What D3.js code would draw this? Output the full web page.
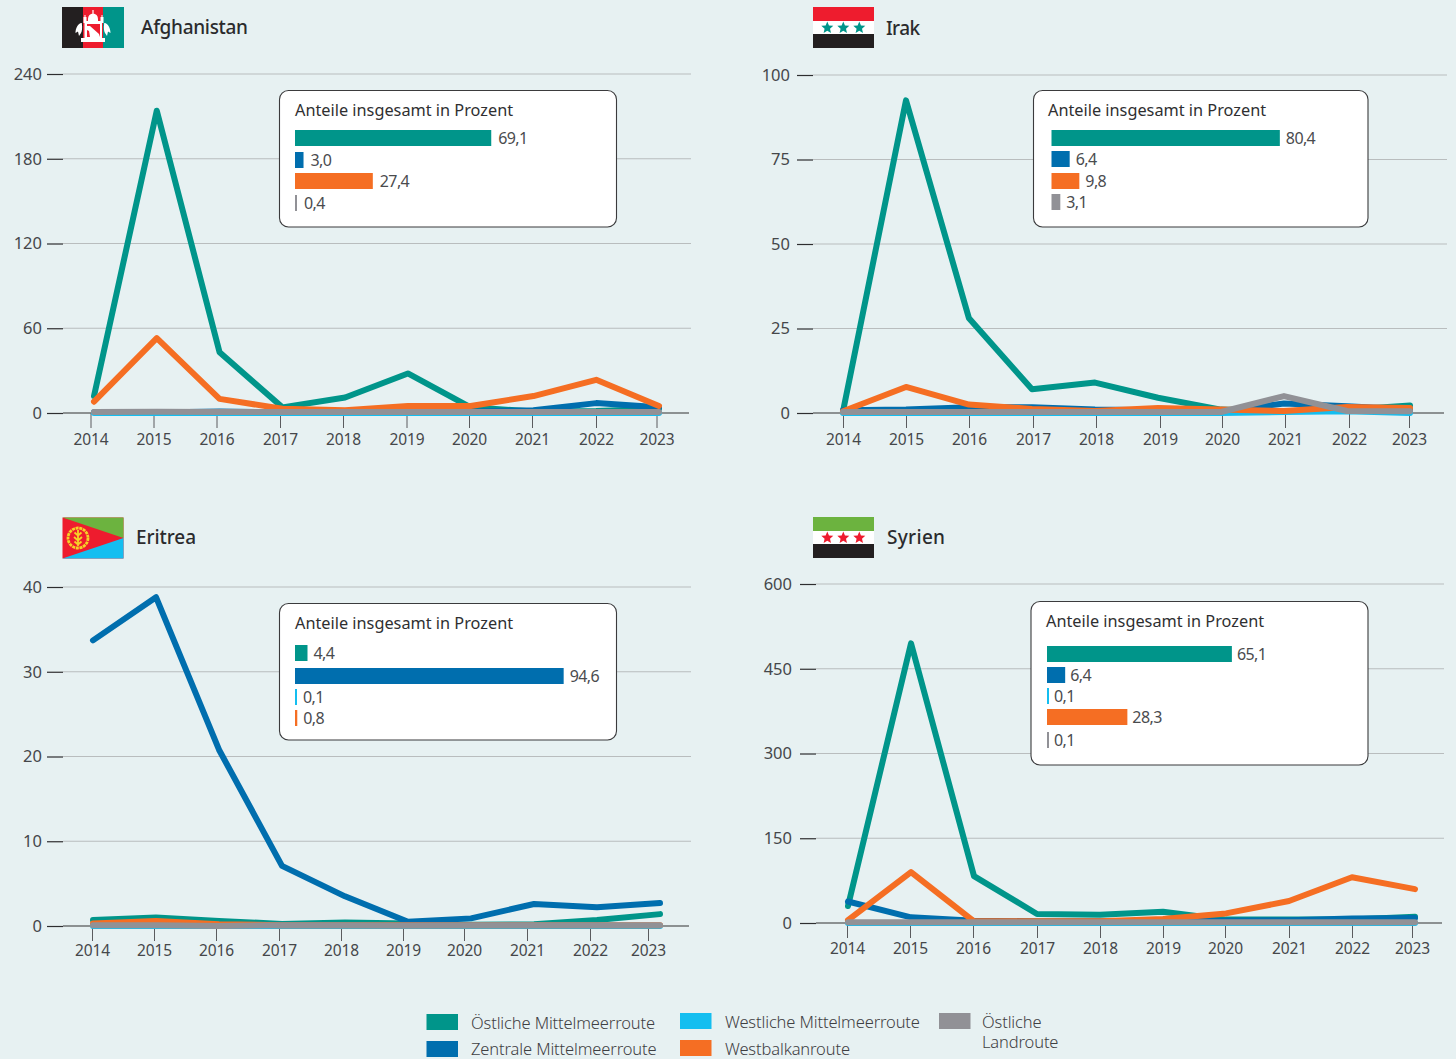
<!DOCTYPE html>
<html lang="de">
<head>
<meta charset="utf-8">
<title>Asylanträge nach Herkunftsland und Fluchtroute</title>
<script src="https://cdn.jsdelivr.net/npm/d3@7/dist/d3.min.js"></script>
<style>
  html, body { margin: 0; padding: 0; background: #e7f1f2; }
  svg { display: block; font-family: "Noto Sans", sans-serif; }
  .axis { font-family: "Noto Sans", sans-serif; }
  .axis text { font-size: 15.5px; fill: #45474a; letter-spacing: -0.15px; }
  .axis.y-axis text { font-size: 16.5px; letter-spacing: 0; }
  .axis .domain { display: none; }
  .title { font-size: 19px; fill: #2b2b2d; font-weight: 500; }
  .box-title { font-size: 16.3px; fill: #2f2f31; }
  .bar-label { font-size: 16px; fill: #4a4b4e; letter-spacing: -0.6px; }
  .legend text { font-size: 16.5px; font-weight: 300; fill: #3f4043; letter-spacing: -0.13px; }
</style>
</head>
<body>
<svg id="chart" width="1456" height="1059"></svg>
<script>
const years = [2014, 2015, 2016, 2017, 2018, 2019, 2020, 2021, 2022, 2023];
const routes = ["Östliche Mittelmeerroute", "Zentrale Mittelmeerroute", "Westliche Mittelmeerroute", "Westbalkanroute", "Östliche Landroute"];
const routeColors = ["#00958a", "#006eae", "#14bef0", "#f56e23", "#919196"];

// Counts per year and route (teal, blue, cyan, orange, grey)
const afghanistanEast = [12, 214, 43, 4, 11, 28, 4, 1, 1.5, 3];
const afghanistanCentral = [0.5, 0.3, 1, 0.5, 0.5, 1, 1, 2, 7, 4];
const afghanistanWest = [0, 0, 0, 0, 0, 0, 0, 0, 0, 0];
const afghanistanBalkan = [8, 53, 10, 3, 2, 5, 5, 12, 23.5, 5];
const afghanistanLand = [0.7, 0.9, 0.7, 0.7, 0.7, 0.7, 0.7, 0.7, 0.7, 0.7];

const iraqEast = [0.5, 92.5, 28, 7, 9, 4.5, 1, 0.5, 1, 2.2];
const iraqCentral = [0.8, 1, 1.7, 1.7, 1, 0.8, 0.5, 2.8, 2, 1];
const iraqWest = [0, 0, 0, 0, 0, 0, 0, 0.3, 0.5, 0];
const iraqBalkan = [0.5, 7.7, 2.5, 1.2, 0.6, 1.5, 1, 0.6, 1.8, 1.5];
const iraqLand = [0.3, 0.3, 0.3, 0.3, 0.3, 0.3, 0.3, 5, 0.6, 0.5];

const eritreaEast = [0.7, 1, 0.6, 0.25, 0.4, 0.3, 0.15, 0.2, 0.7, 1.4];
const eritreaCentral = [33.7, 38.8, 20.8, 7.1, 3.5, 0.5, 0.9, 2.6, 2.2, 2.7];
const eritreaWest = [0, 0, 0, 0, 0, 0, 0, 0, 0, 0];
const eritreaBalkan = [0.3, 0.6, 0.2, 0.1, 0.1, 0.1, 0.1, 0.1, 0.1, 0.1];
const eritreaLand = [0.1, 0.1, 0, 0.1, 0.1, 0.05, 0.1, 0.1, 0.1, 0.1];

const syriaEast = [30, 495, 83, 16, 14.7, 20, 6, 6, 6, 11];
const syriaCentral = [38, 10, 4, 3, 3, 3, 4, 5, 8, 9];
const syriaWest = [0, 0, 0, 0, 0, 0, 0, 0, 0, 0];
const syriaBalkan = [5, 90, 3, 3, 3, 7, 17, 39, 81, 60];
const syriaLand = [1.5, 1.5, 1.5, 1.5, 1.5, 1.5, 1.5, 1.5, 1.5, 1.5];

// Overall shares in percent; null means the route has no row in the box
const afghanistanShares = [69.1, 3.0, null, 27.4, 0.4];
const iraqShares = [80.4, 6.4, null, 9.8, 3.1];
const eritreaShares = [4.4, 94.6, 0.1, 0.8, null];
const syriaShares = [65.1, 6.4, 0.1, 28.3, 0.1];

const afghanistanTicks = [0, 60, 120, 180, 240];
const iraqTicks = [0, 25, 50, 75, 100];
const eritreaTicks = [0, 10, 20, 30, 40];
const syriaTicks = [0, 150, 300, 450, 600];

function star(sel, cx, cy, r, color) {
  const pts = d3.range(10).map(i => {
    const a = -Math.PI / 2 + i * Math.PI / 5, R = i % 2 ? r * 0.45 : r;
    return [cx + R * Math.cos(a), cy + R * Math.sin(a)];
  });
  sel.append("polygon").attr("points", pts.join(" ")).attr("fill", color);
}

// Three horizontal bands, with three stars on the middle one
function tricolor(sel, colors, starColor) {
  [[0, 14], [14, 13], [27, 14]].forEach(([y, h], i) =>
    sel.append("rect").attr("y", y).attr("width", 61).attr("height", h).attr("fill", colors[i]));
  [14.3, 30.3, 46.3].forEach(cx => star(sel, cx, 20.8, 6.3, starColor));
}

const flagPainters = {
  afghanistan(sel) {
    [["#231f20", 0, 21], ["#ee1c2e", 21, 20], ["#00958a", 41, 21]].forEach(([c, x, w]) =>
      sel.append("rect").attr("x", x).attr("width", w).attr("height", 41).attr("fill", c));
    // Simplified white mosque emblem with its two wheat wings
    sel.append("path").attr("fill", "#fff").attr("d",
      "M26 12a5 5.5 0 0 1 10 0v2h-10z M30.4 3h1.2v4h-1.2z M21.5 16v-6h1v-2h1v2h1v4h14v-4h1v-2h1v2h1v6h-1.5v15H43v4H19v-4h3.5V16z");
    sel.append("path").attr("fill", "#ee1c2e").attr("d", "M25 17h13v13H25z");
    sel.append("path").attr("fill", "#fff").attr("d", "M25 19h3l9 8 1 3H28l-1-6-2-1z");
    sel.append("path").attr("fill", "#fff").attr("d",
      "M19 16c-3 1-5.5 5-5.5 10l2.5-1.5 1 4.5 2-3c1-1.5 1.5-5 .8-10z M43 16c3 1 5.5 5 5.5 10l-2.5-1.5-1 4.5-2-3c-1-1.5-1.5-5-.8-10z");
  },
  iraq(sel) { tricolor(sel, ["#ee1c2e", "#fff", "#231f20"], "#00958a"); },
  syria(sel) { tricolor(sel, ["#6cb33f", "#fff", "#231f20"], "#ee1c2e"); },
  eritrea(sel) {
    sel.append("rect").attr("width", 61).attr("height", 41).attr("fill", "#ee1c2e");
    sel.append("path").attr("d", "M0 0H61V20.5z").attr("fill", "#6cb33f");
    sel.append("path").attr("d", "M0 41H61V20.5z").attr("fill", "#14bef0");
    // Olive wreath around a central branch
    sel.append("circle").attr("cx", 15.5).attr("cy", 20.5).attr("r", 10).attr("fill", "none")
      .attr("stroke", "#f5d327").attr("stroke-width", 2.8).attr("stroke-dasharray", "3 0.7");
    sel.append("path").attr("d", "M15.5 12.5V28.5M12 15l3.5 3 3.5-3M11.5 19.5l4 3.5 4-3.5M12 24l3.5 3 3.5-3")
      .attr("fill", "none").attr("stroke", "#f5d327").attr("stroke-width", 1.8);
  }
};

// Panel geometry
const panels = [
  { name: "Afghanistan", flag: "afghanistan", flagX: 62, flagY: 7, titleX: 141, titleY: 34, titleW: 107,
    series: [afghanistanEast, afghanistanCentral, afghanistanWest, afghanistanBalkan, afghanistanLand],
    shares: afghanistanShares, ticks: afghanistanTicks, yMax: 240, yTop: 74, yBase: 413,
    axisLeft: 63, gridRight: 691, baseRight: 689, yPad: 5, xPad: 6,
    lineRange: [94, 659],
    tickRange: [90.5, 153.5, 216.5, 280, 343, 406.5, 469, 532, 596, 656.5],
    box: { x: 279.5, y: 90.5, w: 337, h: 136.5 }, titleX2: 295, titleBase: 116, barX: 295, labelGap: 7, labelBase: 13.5,
    rows: [130, 152, 173, 195] },
  { name: "Irak", flag: "iraq", flagX: 813, flagY: 7, titleX: 886, titleY: 35, titleW: 34,
    series: [iraqEast, iraqCentral, iraqWest, iraqBalkan, iraqLand],
    shares: iraqShares, ticks: iraqTicks, yMax: 100, yTop: 75, yBase: 413,
    axisLeft: 813, gridRight: 1447, baseRight: 1444, yPad: 7, xPad: 6,
    lineRange: [843, 1410],
    tickRange: [843, 906, 969, 1033, 1096, 1160, 1222, 1285, 1349, 1409],
    box: { x: 1033.5, y: 90.5, w: 334.5, h: 136.5 }, titleX2: 1048, titleBase: 116, barX: 1051.5, labelGap: 6, labelBase: 14,
    rows: [130, 151, 173, 194] },
  { name: "Eritrea", flag: "eritrea", flagX: 62.5, flagY: 517.5, titleX: 136, titleY: 544, titleW: 60,
    series: [eritreaEast, eritreaCentral, eritreaWest, eritreaBalkan, eritreaLand],
    shares: eritreaShares, ticks: eritreaTicks, yMax: 40, yTop: 587, yBase: 926,
    axisLeft: 63, gridRight: 691, baseRight: 689, yPad: 5, xPad: 4,
    lineRange: [93, 660],
    tickRange: [92, 154, 216, 279, 341, 403, 464, 527, 590, 648],
    box: { x: 279.5, y: 603.5, w: 337, h: 136.5 }, titleX2: 295, titleBase: 629, barX: 295, labelGap: 6, labelBase: 14,
    rows: [645, 668, 689, 710] },
  { name: "Syrien", flag: "syria", flagX: 813, flagY: 517, titleX: 887, titleY: 544, titleW: 58,
    series: [syriaEast, syriaCentral, syriaWest, syriaBalkan, syriaLand],
    shares: syriaShares, ticks: syriaTicks, yMax: 600, yTop: 584, yBase: 923,
    axisLeft: 816, gridRight: 1444, baseRight: 1442, yPad: 8, xPad: 5,
    lineRange: [848, 1415],
    tickRange: [847, 910, 973, 1037, 1100, 1163, 1225, 1289, 1352, 1412],
    box: { x: 1031, y: 601.5, w: 337, h: 163.5 }, titleX2: 1046, titleBase: 627, barX: 1047, labelGap: 5, labelBase: 14,
    rows: [646, 667, 688, 709, 732] }
];

const svg = d3.select("#chart");
const deLocale = d3.formatLocale({ decimal: ",", thousands: ".", grouping: [3], currency: ["", "€"] });
const formatShare = deLocale.format(".1f");
// Same horizontal scale in every box: about 2.84 px per percentage point
const shareScale = d3.scaleLinear().domain([0, 100]).range([0, 284]);

panels.forEach(p => {
  const g = svg.append("g");
  const y = d3.scaleLinear().domain([0, p.yMax]).range([p.yBase, p.yTop]);
  const xLine = d3.scaleLinear().domain(d3.extent(years)).range(p.lineRange);
  const xTick = d3.scaleLinear().domain(years).range(p.tickRange);

  // Horizontal rules with a short dark tick at the left
  g.append("g").selectAll("line").data(p.ticks.filter(t => t !== 0)).join("line")
    .attr("x1", p.axisLeft).attr("x2", p.gridRight)
    .attr("y1", d => y(d)).attr("y2", d => y(d))
    .attr("stroke", "#b9bdbe").attr("stroke-width", 1.2);
  const yAxis = d3.axisLeft(y).tickValues(p.ticks).tickSize(16).tickPadding(p.yPad);
  const yG = g.append("g").attr("class", "axis y-axis").attr("transform", `translate(${p.axisLeft},0)`).call(yAxis);
  yG.selectAll(".tick line").attr("stroke", "#2e2e30").attr("stroke-width", 1.2);

  // Year axis
  const xAxis = d3.axisBottom(xTick).tickValues(years).tickFormat(d3.format("d")).tickSize(15).tickPadding(p.xPad);
  const xG = g.append("g").attr("class", "axis").attr("transform", `translate(0,${p.yBase})`).call(xAxis);
  xG.selectAll(".tick line").attr("stroke", "#5a5b5e").attr("stroke-width", 1);

  g.append("line").attr("x1", p.axisLeft).attr("x2", p.baseRight)
    .attr("y1", p.yBase).attr("y2", p.yBase)
    .attr("stroke", "#6e7072").attr("stroke-width", 1.4);

  // Route lines, grey on top
  const line = d3.line().x((d, i) => xLine(years[i])).y(d => y(d));
  g.append("g").selectAll("path").data(p.series).join("path")
    .attr("d", d => line(d))
    .attr("fill", "none")
    .attr("stroke", (d, i) => routeColors[i])
    .attr("stroke-width", 6)
    .attr("stroke-linecap", "round")
    .attr("stroke-linejoin", "round");

  // Share box
  g.append("rect").attr("x", p.box.x).attr("y", p.box.y).attr("width", p.box.w).attr("height", p.box.h)
    .attr("rx", 9).attr("fill", "#fff").attr("stroke", "#3b3b3d").attr("stroke-width", 1.1);
  g.append("text").attr("class", "box-title").attr("x", p.titleX2).attr("y", p.titleBase)
    .text("Anteile insgesamt in Prozent");

  const rows = p.shares.map((v, i) => ({ v, i })).filter(d => d.v !== null);
  const rowG = g.append("g").selectAll("g").data(rows).join("g")
    .attr("transform", (d, k) => `translate(${p.barX},${p.rows[k]})`);
  rowG.append("rect").attr("width", d => Math.max(2, shareScale(d.v))).attr("height", 16)
    .attr("fill", d => routeColors[d.i]);
  rowG.append("text").attr("class", "bar-label")
    .attr("x", d => Math.max(2, shareScale(d.v)) + p.labelGap).attr("y", p.labelBase)
    .text(d => formatShare(d.v));

  // Country heading
  g.append("text").attr("class", "title").attr("x", p.titleX).attr("y", p.titleY)
    .attr("textLength", p.titleW).text(p.name);
  const flag = g.append("g").attr("transform", `translate(${p.flagX},${p.flagY})`);
  flagPainters[p.flag](flag);
});

// Legend
const legendSpots = [
  { x: 426.5, y: 1014, tx: 471, ty: 1029 }, { x: 426.5, y: 1041, tx: 471, ty: 1055 },
  { x: 680, y: 1013, tx: 725, ty: 1028 }, { x: 680, y: 1040, tx: 725, ty: 1055 },
  { x: 939, y: 1013, tx: 982, ty: 1028 }
];
const legend = svg.append("g").attr("class", "legend");
routes.forEach((name, i) => {
  const s = legendSpots[i];
  legend.append("rect").attr("x", s.x).attr("y", s.y).attr("width", 31.5).attr("height", 16).attr("fill", routeColors[i]);
  // The land route label wraps after its first word
  name.split(i === 4 ? " " : "\n").forEach((part, k) =>
    legend.append("text").attr("x", s.tx).attr("y", s.ty + k * 20).text(part));
});
</script>
</body>
</html>
